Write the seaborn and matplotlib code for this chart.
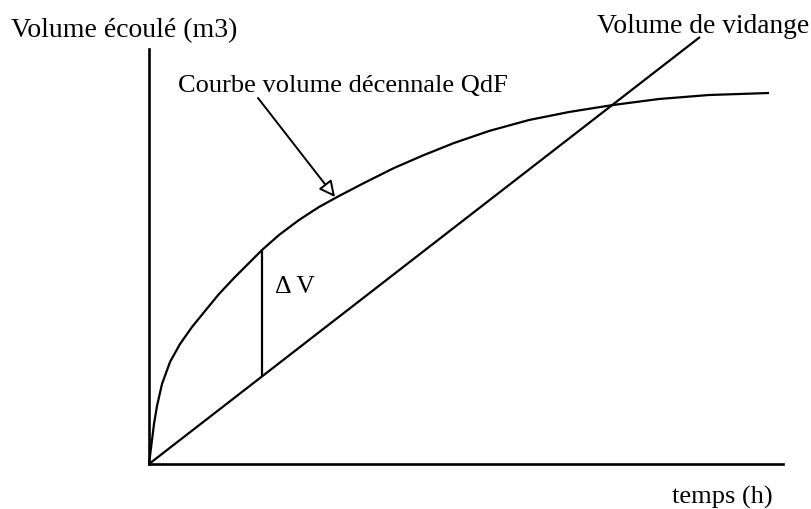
import matplotlib
matplotlib.use("Agg")
import matplotlib.pyplot as plt
import seaborn as sns
import pandas as pd

curve_t = [0, 1, 2.5, 5, 8, 13, 21, 31, 43, 56, 70, 85, 100, 113, 130, 150,
           170, 190, 215, 245, 275, 305, 340, 380, 420, 464, 510, 560, 620]
curve_v = [0, 8, 20, 40, 58, 80, 102, 120, 137, 153, 170, 186, 201, 214, 229,
           244, 257, 268, 281, 296, 309, 321, 333, 344, 352, 359, 365, 369, 371]
drain_t = [0, 551]
drain_v = [0, 427]
dv_t = [113, 113]
dv_v = [88, 214]

labels = {
    "ylabel": "Volume écoulé (m3)",
    "xlabel": "temps (h)",
    "drain": "Volume de vidange",
    "curve": "Courbe volume décennale QdF",
    "dv": "\u0394 V",
}

sns.set_theme(style="white")
plt.rcParams["font.family"] = ["Liberation Serif", "DejaVu Serif"]

W, H = 812, 510
fig = plt.figure(figsize=(W / 100, H / 100), dpi=100)
ox, oy, xend, ytop = 149, 465, 783, 50
ax = fig.add_axes([ox / W, (H - oy) / H, (xend - ox) / W, (oy - ytop) / H])
ax.set_xlim(0, xend - ox)
ax.set_ylim(0, oy - ytop)

df_curve = pd.DataFrame({"t": curve_t, "v": curve_v})
df_drain = pd.DataFrame({"t": drain_t, "v": drain_v})
df_dv = pd.DataFrame({"t": dv_t, "v": dv_v})

lw = 1.6
for d in (df_curve, df_drain, df_dv):
    sns.lineplot(data=d, x="t", y="v", ax=ax, color="black", linewidth=lw,
                 sort=False, estimator=None)
for line in ax.lines:
    line.set_clip_on(False)
    line.set_solid_joinstyle("round")
    line.set_solid_capstyle("butt")

for s in ("top", "right"):
    ax.spines[s].set_visible(False)
for s in ("left", "bottom"):
    ax.spines[s].set_color("black")
    ax.spines[s].set_linewidth(1.9)
ax.set_xticks([])
ax.set_yticks([])
ax.set_xlabel("")
ax.set_ylabel("")

# arrow pointing at curve
ax.annotate("", xy=(186, 267), xytext=(109, 366),
            arrowprops=dict(arrowstyle="-|>,head_length=0.8,head_width=0.4",
                            fc="white", ec="black", lw=1.4, shrinkA=0, shrinkB=0),
            annotation_clip=False)

def ftext(px, py, s, size, **kw):
    fig.text(px / W, 1 - py / H, s, fontsize=size, color="black", **kw)

ftext(11, 37, labels["ylabel"], 20, ha="left", va="baseline")
ftext(597, 33, labels["drain"], 19.8, ha="left", va="baseline")
ftext(178, 92, labels["curve"], 19, ha="left", va="baseline")
ftext(275, 293, labels["dv"], 18.5, ha="left", va="baseline")
ftext(672, 504, labels["xlabel"], 19, ha="left", va="baseline")

fig.savefig("out.png", dpi=100)
